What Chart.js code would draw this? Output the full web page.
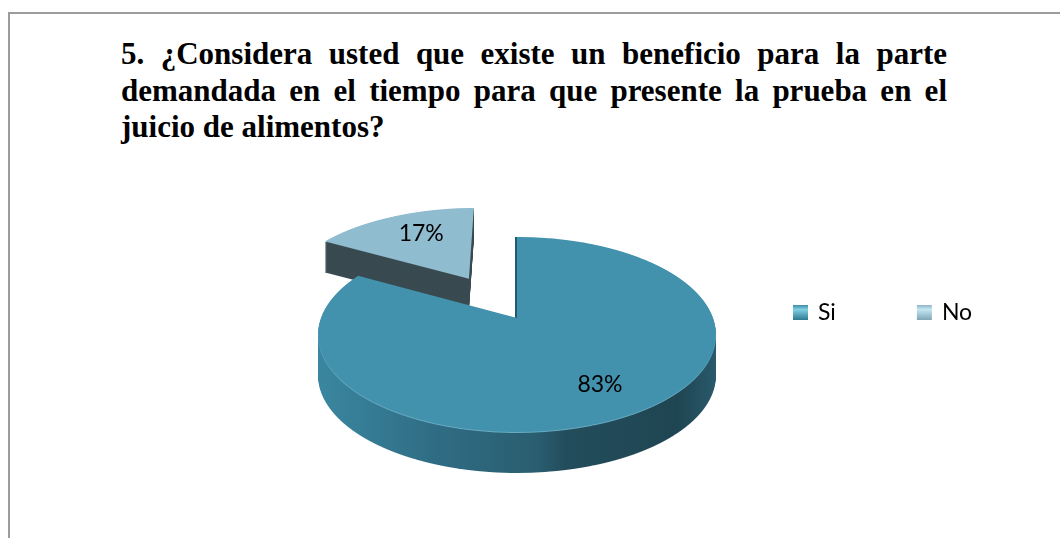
<!DOCTYPE html>
<html><head><meta charset="utf-8">
<style>
html,body{margin:0;padding:0;background:#fff;width:1060px;height:538px;overflow:hidden}
#frame{position:absolute;left:8px;top:12px;width:1060px;height:540px;border-top:2px solid #9c9c9c;border-left:2px solid #9c9c9c}
#title{position:absolute;left:121px;top:36px;width:826px;font:bold 31px/36.6px "Liberation Serif",serif;color:#000}
#title div{text-align:justify;text-align-last:justify;white-space:nowrap}
#title div:last-child{text-align-last:left}
canvas{position:absolute;left:0;top:0}
</style>
<script src="https://cdn.jsdelivr.net/npm/chart.js@4"></script>
</head><body>
<div id="frame"></div>
<div id="title"></div>
<canvas id="c" width="1060" height="538"></canvas>
<script>
const titleLines = [
  "5. ¿Considera usted que existe un beneficio para la parte",
  "demandada en el tiempo para que presente la prueba en el",
  "juicio de alimentos?"
];
const categories = ["Si", "No"];
const values = [83, 17];
const faceColors = ["#4292ad", "#8fbccf"];

titleLines.forEach(t => {
  const d = document.createElement('div'); d.textContent = t;
  document.getElementById('title').appendChild(d);
});

// projection of the flat pie on to the tilted plane
const P = {x0: 517, y0: 318, rx: 196, A: 94.7, k: 0.169};
const W = 1060, H = 538;
const labelNudge = [[-1, -2], [11, 3]];

function newLayer() {
  const c = document.createElement('canvas'); c.width = W; c.height = H; return c;
}
function renderFace(el, color) {
  const layer = newLayer(), g = layer.getContext('2d');
  const saved = el.options, savedR = el.outerRadius;
  el.options = Object.assign({}, saved, {backgroundColor: color, borderWidth: 0, borderColor: color});
  const R = savedR, fx = el.x, fy = el.y;
  // the arc element widens an offset slice a little; keep it the same radius as the pie
  const d = (saved.offset || 0) / 4;
  el.outerRadius = R - d * (1 - Math.sin(Math.min(Math.PI, el.circumference)));
  const flatN = yy => (yy - P.y0) / (P.A + P.k * (yy - P.y0));
  for (let row = 190; row < 450; row++) {
    const n0 = flatN(row), n1 = flatN(row + 1);
    const f0 = fy + n0 * R, f1 = fy + n1 * R;
    const sy = 1 / (f1 - f0);
    const sx = (P.rx / R) / (1 - P.k * (n0 + n1) / 2);
    g.save();
    g.beginPath(); g.rect(0, row, W, 1); g.clip();
    g.setTransform(sx, 0, 0, sy, P.x0 - fx * sx, row - f0 * sy);
    el.draw(g);
    g.restore();
  }
  el.options = saved; el.outerRadius = savedR;
  return layer;
}
function wallFrom(face, depth, fill) {
  const layer = newLayer(), g = layer.getContext('2d');
  for (let d = 1; d <= depth; d++) g.drawImage(face, 0, d);
  g.globalCompositeOperation = 'source-in';
  g.fillStyle = fill(g);
  g.fillRect(0, 0, W, H);
  return layer;
}

const pie3d = {
  id: 'pie3d',
  afterLayout(chart) {
    const lg = chart.legend, pad = lg.options.labels.padding;
    lg.left = 794.5 - pad; lg.right = 1400; lg.top = 301 - pad; lg.bottom = 340;
  },
  beforeDatasetsDraw(chart) {
    const ctx = chart.ctx, arcs = chart.getDatasetMeta(0).data;
    const si = arcs[0], no = arcs[1];
    // exploded slice: wall then top
    const noFace = renderFace(no, faceColors[1]);
    ctx.drawImage(wallFrom(noFace, 31, () => '#38494f'), 0, 0);
    ctx.drawImage(noFace, 0, 0);
    // main slice: wall, rim, inner edge, top
    const siFace = renderFace(si, faceColors[0]);
    ctx.drawImage(wallFrom(siFace, 41, g => {
      const gr = g.createLinearGradient(319, 0, 717, 0);
      gr.addColorStop(0, '#3a86a0');
      gr.addColorStop(0.3, '#2f6c83');
      gr.addColorStop(0.55, '#2a5d70');
      gr.addColorStop(0.62, '#234d5c');
      gr.addColorStop(0.9, '#1f4552');
      gr.addColorStop(1, '#2a5a6c');
      return gr;
    }), 0, 0);
    ctx.save();
    ctx.beginPath(); ctx.rect(505, 230, 15, 89); ctx.clip();
    ctx.drawImage(renderFace(si, '#1f5a70'), -2, 0);
    ctx.restore();
    ctx.drawImage(renderFace(si, '#68aac0'), 0, 1);
    ctx.drawImage(siFace, 0, 0);
    // percentage labels, at a fixed fraction of the radius along each slice's mid-angle
    const total = values.reduce((a, b) => a + b, 0);
    ctx.save();
    ctx.font = '23px Lato, sans-serif';
    ctx.fillStyle = '#000';
    ctx.textAlign = 'center'; ctx.textBaseline = 'middle';
    arcs.forEach((el, i) => {
      const mid = (el.startAngle + el.endAngle) / 2;
      const d = (el.options.offset || 0) / 4;
      const u = (Math.cos(mid) * (d + 0.75 * el.outerRadius)) / el.outerRadius;
      const v = (Math.sin(mid) * (d + 0.75 * el.outerRadius)) / el.outerRadius;
      const q = 1 - P.k * v;
      ctx.fillText(Math.round(values[i] / total * 100) + '%', P.x0 + P.rx * u / q + labelNudge[i][0], P.y0 + P.A * v / q + labelNudge[i][1]);
    });
    ctx.restore();
    return false;
  }
};

function iconFill(c, edge, light, dark) {
  const g = c.createLinearGradient(0, 305, 0, 320);
  g.addColorStop(0, edge); g.addColorStop(0.3, light); g.addColorStop(1, dark);
  return g;
}
const ctx2d = document.getElementById('c').getContext('2d');
const iconFills = [
  iconFill(ctx2d, '#3f8ba6', '#7fd0e4', '#2f7890'),
  iconFill(ctx2d, '#8db6c6', '#c4e6f2', '#7fa6b6')
];

new Chart(ctx2d, {
  type: 'pie',
  data: {labels: categories, datasets: [{data: values, backgroundColor: faceColors, offset: [0, 215], borderWidth: 0}]},
  plugins: [pie3d],
  options: {
    responsive: false, animation: false, devicePixelRatio: 1,
    rotation: 0,
    layout: {padding: 0},
    plugins: {
      tooltip: {enabled: false},
      title: {display: false},
      legend: {
        display: true, position: 'top', align: 'start',
        labels: {
          boxWidth: 12, boxHeight: 12, padding: 82.5, color: '#000',
          font: {family: 'Lato, sans-serif', size: 23},
          generateLabels: () => categories.map((t, i) => ({text: t, fillStyle: iconFills[i], strokeStyle: iconFills[i], lineWidth: 3, index: i, fontColor: '#000'}))
        }
      }
    }
  }
});
</script>
</body></html>
